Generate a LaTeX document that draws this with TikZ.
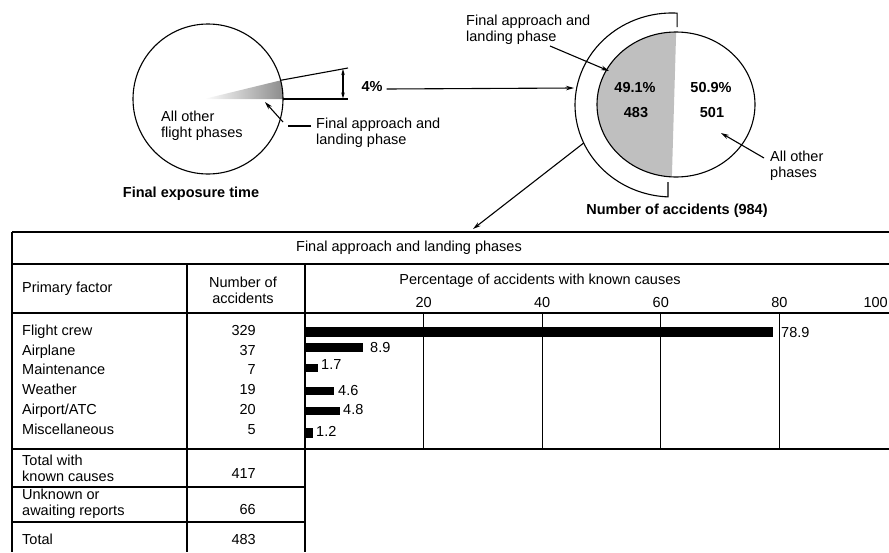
\documentclass[tikz,border=0pt]{standalone}
\usepackage{fontspec}
\setmainfont{Liberation Sans}
\usetikzlibrary{arrows.meta,shapes.geometric}
\begin{document}
\begin{tikzpicture}[x=1pt,y=-1pt,
  txt/.style={font=\fontsize{14.5}{16}\selectfont, inner sep=0pt, text height=0.72em, text depth=0.2em},
  mtxt/.style={font=\fontsize{14.5}{16}\selectfont, inner sep=0pt, align=left},
  btxt/.style={font=\fontsize{14.5}{16}\selectfont\bfseries, inner sep=0pt, text height=0.72em, text depth=0.2em},
  ln/.style={line width=1.1pt},
  tl/.style={line width=1.2pt},
  arr/.style={line width=1.1pt,-{Stealth[length=8pt,width=4.5pt]}},
  darr/.style={line width=1.1pt,{Stealth[length=6pt,width=3.5pt]}-{Stealth[length=6pt,width=3.5pt]}},
  barfill/.style={fill=black},
  shadefill/.style={fill=black!25}]
\useasboundingbox (0,0) rectangle (889,552);
\clip (0,0) rectangle (889,552);

% ---------- left circle ----------
\shade[left color=white, right color=black!45] (204,99) -- (283,99) arc[start angle=0, end angle=-14.4, radius=75] -- cycle;
\node[draw, circle, ln, minimum size=150pt, inner sep=0pt] (lc) at (208,99) {};
\coordinate (wt) at (280.6,80.3);
\coordinate (wb) at (283,99);
\coordinate (et) at (348,68);
\coordinate (eb) at (348,99);
\draw[ln] (wt) -- (et);
\draw[ln] (wb) -- (eb);
\coordinate (dt) at (343,69);
\coordinate (db) at (343,98.5);
\draw[darr] (dt) -- (db);
\node[btxt] (pct) at (372,89) {4\%};
\node[mtxt, anchor=west] (allo) at (161,126) {All other\\flight phases};
\node[mtxt, anchor=west] (fal) at (316,133) {Final approach and\\landing phase};
\coordinate (dashA) at (288,126);
\draw[ln] (fal.west |- dashA) ++(-5,0) -- (dashA);
\coordinate (ptrS) at (283,122);
\coordinate (ptrE) at (265,102);
\draw[arr] (ptrS) -- (ptrE);
\node[btxt] (fet) at (191,195) {Final exposure time};

% ---------- right circle ----------
\begin{scope}
\clip (676,104.5) ellipse[x radius=79, y radius=72.5];
\fill[shadefill] (590,20) -- (676.5,20) -- (671.5,190) -- (590,190) -- cycle;
\end{scope}
\node[draw, ellipse, ln, minimum width=158pt, minimum height=145pt, inner sep=0pt] (rc) at (676,104.5) {};
\draw[ln] (677.1,27) -- (677.1,13.1) arc[start angle=-87, end angle=-267.6, x radius=97, y radius=92] -- (668,182);
\coordinate (oarcL) at (574,88);
\draw[arr] (pct.east) ++(4,0) -- (oarcL);
\node[btxt] (p491) at (635,90) {49.1\%};
\node[btxt] (n483) at (636,115) {483};
\node[btxt] (p509) at (711,90) {50.9\%};
\node[btxt] (n501) at (712,115) {501};
\node[mtxt, anchor=west] (fal2) at (466,29.5) {Final approach and\\landing phase};
\coordinate (fa2s) at (550,46);
\coordinate (fa2e) at (609,71);
\draw[arr] (fa2s) -- (fa2e);
\node[mtxt, anchor=west] (aop) at (770,166) {All other\\phases};
\coordinate (aops) at (764,158);
\coordinate (aope) at (721,133);
\draw[arr] (aops) -- (aope);
\node[btxt] (noa) at (677,212) {Number of accidents (984)};
\coordinate (arcP) at (583.7,143);
\coordinate (tabP) at (473,229);
\draw[arr] (arcP) -- (tabP);

% ---------- table ----------
\draw[tl] (12,232) -- (889,232);
\draw[tl] (12,264) -- (889,264);
\draw[tl] (12,313) -- (889,313);
\draw[tl] (12,449) -- (889,449);
\draw[tl] (12,487) -- (305,487);
\draw[tl] (12,522) -- (305,522);
\draw[tl] (12,232) -- (12,552);
\draw[tl] (187,264) -- (187,552);
\draw[tl] (305,264) -- (305,552);

\node[txt] (title) at (409,249) {Final approach and landing phases};
\node[txt, anchor=west] (pf) at (22,290) {Primary factor};
\node[mtxt, align=center] (noh) at (243,290) {Number of\\accidents};
\node[txt] (pch) at (540,282) {Percentage of accidents with known causes};

\foreach \p in {20,40,60,80} {
  \draw[ln] ({305+5.93*\p},313) -- ({305+5.93*\p},449);
  \node[txt] (t\p) at ({305+5.93*\p},305) {\p};
}
\node[txt, anchor=east] (t100) at (888,305) {100};

% rows
\foreach \lab/\num/\yy [count=\i] in {Flight crew/329/333, Airplane/37/353, Maintenance/7/372, Weather/19/392, {Airport/ATC}/20/412, Miscellaneous/5/432} {
  \node[txt, anchor=west] (r\i) at (22,\yy) {\lab};
  \node[txt, anchor=east] (n\i) at (256,\yy) {\num};
}

% bars
\fill[barfill] (305,326.5) rectangle (773,337);
\fill[barfill] (305,343) rectangle (363,352);
\fill[barfill] (305,364) rectangle (318,372);
\fill[barfill] (305,387) rectangle (334,394.5);
\fill[barfill] (305,407) rectangle (340,414.5);
\fill[barfill] (305,428) rectangle (312.5,438);
\node[txt, anchor=west] (v1) at (781,335) {78.9};
\node[txt, anchor=west] (v2) at (370,350) {8.9};
\node[txt, anchor=west] (v3) at (321,367) {1.7};
\node[txt, anchor=west] (v4) at (338,393) {4.6};
\node[txt, anchor=west] (v5) at (343,412) {4.8};
\node[txt, anchor=west] (v6) at (316,434) {1.2};

% lower rows
\node[mtxt, anchor=west] (twk) at (22,468) {Total with\\known causes};
\node[txt, anchor=east] (n417) at (256,476) {417};
\node[mtxt, anchor=west] (uar) at (22,504) {Unknown or\\awaiting reports};
\node[txt, anchor=east] (n66) at (256,512) {66};
\node[txt, anchor=west] (tot) at (22,542) {Total};
\node[txt, anchor=east] (n483b) at (256,542) {483};
\end{tikzpicture}
\end{document}
